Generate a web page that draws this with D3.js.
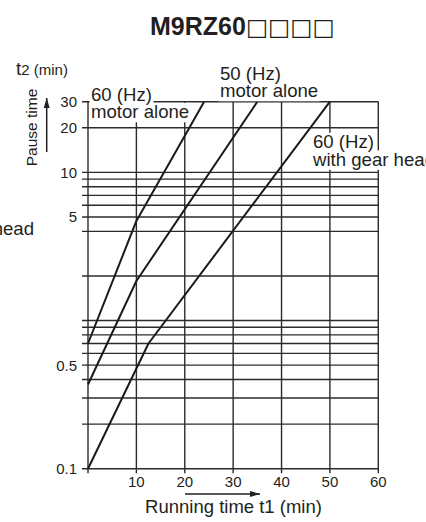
<!DOCTYPE html>
<html>
<head>
<meta charset="utf-8">
<script src="https://cdn.jsdelivr.net/npm/d3@7/dist/d3.min.js"></script>
<style>
  html, body { margin: 0; padding: 0; background: #fff; overflow: hidden; }
  svg { display: block; font-family: "Liberation Sans", Arial, sans-serif; }
</style>
</head>
<body>
<svg id="chart" width="426" height="522"></svg>
<script>
// ---- data ----
const seriesNames = ["60 (Hz) motor alone", "50 (Hz) motor alone", "60 (Hz) with gear head"];
const runTime60Motor = [0, 10, 24];
const pause60Motor   = [0.7, 4.7, 30];
const runTime50Motor = [0, 10, 35];
const pause50Motor   = [0.37, 1.85, 30];
const runTime60Gear  = [0, 12.5, 50];
const pause60Gear    = [0.1, 0.7, 30];

const xGridValues  = [0, 10, 20, 30, 40, 50, 60];
const xTickValues  = [10, 20, 30, 40, 50, 60];
const yGridValues  = [0.1, 0.2, 0.3, 0.4, 0.5, 0.6, 0.7, 0.8, 0.9, 1, 2, 4, 5, 6, 7, 8, 9, 10, 20, 30];
const yTickValues  = [0.1, 0.5, 5, 10, 20, 30];
const yTickLabels  = ["0.1", "0.5", "5", "10", "20", "30"];

// ---- layout ----
const svg = d3.select("#chart");
const plotLeft = 88, plotRight = 378.3, plotTop = 101.7, plotBottom = 468.7;
const x = d3.scaleLinear().domain([0, 60]).range([plotLeft, plotRight]);
const y = d3.scaleLog().domain([0.1, 30]).range([plotBottom, plotTop]);
const gridColor = "#2b2b2b";
const ink = "#231f20";

// title
const title = svg.append("text")
  .attr("x", 150).attr("y", 35)
  .style("font-size", "25px").style("font-weight", "bold").attr("fill", ink);
title.append("tspan").text("M9RZ60");
title.append("tspan").style("font-weight", "normal").style("font-size", "23.5px")
  .attr("font-family", "DejaVu Sans").text("□□□□");

// horizontal grid lines (with left tick stubs)
svg.append("g").selectAll("line").data(yGridValues).join("line")
  .attr("x1", plotLeft - 6).attr("x2", plotRight)
  .attr("y1", d => y(d)).attr("y2", d => y(d))
  .attr("stroke", gridColor).attr("stroke-width", 1.4);

// vertical grid lines (extend below as ticks)
svg.append("g").selectAll("line").data(xGridValues).join("line")
  .attr("x1", d => x(d)).attr("x2", d => x(d))
  .attr("y1", plotTop).attr("y2", plotBottom + 4.5)
  .attr("stroke", gridColor).attr("stroke-width", 1.4);

// y tick labels
svg.append("g").selectAll("text").data(yTickValues).join("text")
  .attr("x", plotLeft - 11).attr("y", d => y(d)).attr("dy", "0.36em")
  .attr("text-anchor", "end").style("font-size", "15px").attr("fill", ink)
  .text((d, i) => yTickLabels[i]);

// x tick labels
svg.append("g").selectAll("text").data(xTickValues).join("text")
  .attr("x", d => x(d)).attr("y", 487)
  .attr("text-anchor", "middle").style("font-size", "15px").attr("fill", ink)
  .text(d => d);

// data lines
const lineGen = d3.line().x(d => x(d[0])).y(d => y(d[1]));
const seriesData = [
  d3.zip(runTime60Motor, pause60Motor),
  d3.zip(runTime50Motor, pause50Motor),
  d3.zip(runTime60Gear, pause60Gear)
];
svg.append("g").selectAll("path").data(seriesData).join("path")
  .attr("d", lineGen).attr("fill", "none")
  .attr("stroke", "#1a1a1a").attr("stroke-width", 2).attr("stroke-linejoin", "round");

// ---- series labels with white backgrounds (one text element, two lines) ----
function label(lines, lx, ly, lh, size) {
  const g = svg.append("g");
  const txt = g.append("text").style("font-size", size + "px").attr("fill", ink);
  lines.forEach((t, i) => {
    txt.append("tspan").attr("x", lx).attr("y", ly + i * lh).text(t);
  });
  txt.selectAll("tspan").each(function () {
    const b = this.getBBox();
    g.insert("rect", "text")
      .attr("x", b.x - 1.5).attr("y", b.y + 1.8).attr("width", b.width + 3).attr("height", b.height - 1.6)
      .attr("fill", "#fff");
  });
  return g;
}
const [name60m, name50m, name60g] = seriesNames;
label([name60m.slice(0, 7), name60m.slice(8)], 91, 100.5, 17.6, 18.6);
label([name50m.slice(0, 7), name50m.slice(8)], 220, 79.5, 17.6, 18.6);
label([name60g.slice(0, 7), name60g.slice(8)], 313, 148, 17.6, 18.6);
svg.append("text").attr("x", 34).attr("y", 235).attr("text-anchor", "end")
  .style("font-size", "18.6px").attr("fill", ink).text("head");

// y axis title
const t2 = svg.append("text").attr("x", 16).attr("y", 75).attr("fill", ink);
t2.append("tspan").style("font-size", "19px").text("t");
t2.append("tspan").style("font-size", "15px").text("2 (min)");

svg.append("text")
  .attr("transform", "translate(37,127.5) rotate(-90)")
  .attr("text-anchor", "middle").style("font-size", "15.5px").attr("fill", ink)
  .text("Pause time");

// arrows
const defs = svg.append("defs");
defs.append("marker").attr("id", "arr").attr("viewBox", "0 0 10 6")
  .attr("refX", 10).attr("refY", 3).attr("markerWidth", 10).attr("markerHeight", 6)
  .attr("markerUnits", "userSpaceOnUse").attr("orient", "auto")
  .append("path").attr("d", "M0,0 L10,3 L0,6 Z").attr("fill", ink);

svg.append("line").attr("x1", 46.7).attr("y1", 152).attr("x2", 46.7).attr("y2", 98)
  .attr("stroke", ink).attr("stroke-width", 1.5).attr("marker-end", "url(#arr)");
svg.append("line").attr("x1", 185).attr("y1", 494).attr("x2", 260).attr("y2", 494)
  .attr("stroke", ink).attr("stroke-width", 1.5).attr("marker-end", "url(#arr)");

svg.append("text").attr("x", 233.5).attr("y", 513).attr("text-anchor", "middle")
  .style("font-size", "18.5px").attr("fill", ink).text("Running time t1 (min)");
</script>
</body>
</html>
